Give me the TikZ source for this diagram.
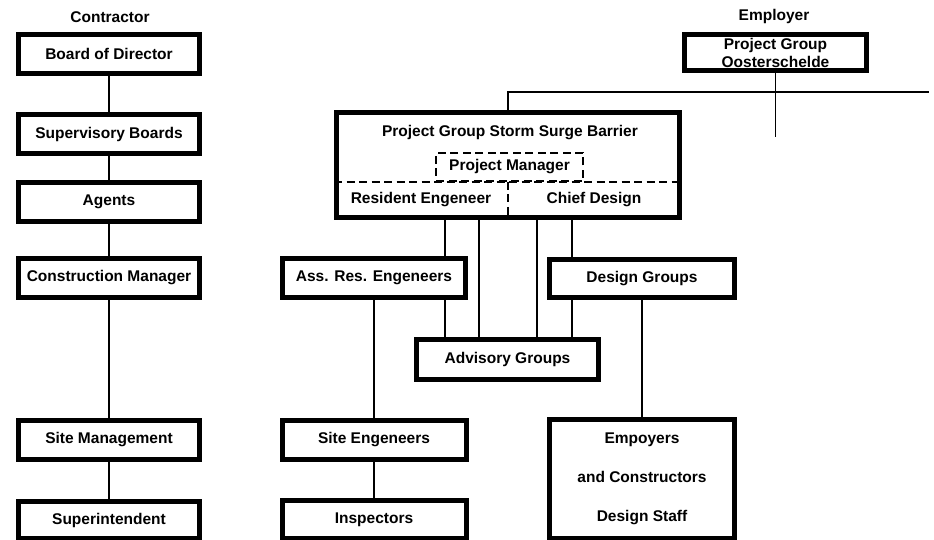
\documentclass[tikz,border=0pt]{standalone}
\usepackage{fontspec}
\setmainfont{Liberation Sans}
\usepackage{tikz}
\usetikzlibrary{
    calc,
    positioning
}
\newcommand{\orgfont}{\fontsize{15.5}{18}\selectfont\bfseries}
\tikzstyle{orgbox}=[
    rectangle,
    draw=black,
    fill=white,
    line width=5pt,
    minimum width=181pt,
    minimum height=39pt,
    inner sep=0pt,
    align=center,
    font=\orgfont
]
\tikzstyle{link}=[line width=1.5pt,draw=black]

\begin{document}
\begin{tikzpicture}[
    x=1pt,y=-1pt,
    heading/.style={font=\orgfont,inner sep=0pt},
    dashline/.style={line width=2pt,dash pattern=on 8pt off 4.5pt},
    pmbox/.style={rectangle,draw=black,dashline,minimum width=147pt,
    minimum height=28pt,inner sep=0pt,font=\orgfont}
]
\useasboundingbox (0,0) rectangle (934,540);
% contractor side
\node[heading] (contractor) at (110,17) {Contractor};
\node[orgbox] (board) at (109,54) {Board of Director};
\node[orgbox,below=36pt of board] (superv) {Supervisory Boards};
\node[orgbox,below=24pt of superv] (agents) {Agents};
\node[orgbox,below=32pt of agents] (constr) {Construction Manager};
\node[orgbox,below=118pt of constr] (sitemgmt) {Site Management};
\node[orgbox,below=37pt of sitemgmt,minimum height=37pt] (superint) {Superintendent};
\draw[link] (board.south) -- (superv.north);
\draw[link] (superv.south) -- (agents.north);
\draw[link] (agents.south) -- (constr.north);
\draw[link] (constr.south) -- (sitemgmt.north);
\draw[link] (sitemgmt.south) -- (superint.north);
% employer side
\node[heading] (employer) at (774,16) {Employer};
\node[orgbox,minimum width=182pt,minimum height=36pt] (ooster) at (775.5,52.5)
{Project Group\\Oosterschelde};
\coordinate (busend) at (929,92);
\coordinate (stub) at (775.5,137);
\node[orgbox,minimum width=343pt,minimum height=105pt] (storm) at (508,165) {};
\node[heading] (stormtitle) at (510,133) {Project Group Storm Surge Barrier};
\node[pmbox] (pm) at (509.5,167) {Project Manager};
\node[heading] (resident) at (421,200) {Resident Engeneer};
\node[heading] (chief) at (594,200) {Chief Design};
\draw[dashline] (storm.west |- pm.south) -- (storm.east |- pm.south);
\draw[dashline] (storm.south |- pm.south) -- (storm.south);
\draw[link] (storm.north) |- (busend);
\draw[link] (ooster.south) -- (stub);
% groups below
\node[orgbox,minimum width=183pt] (assres) at (374,278) {Ass. Res. Engeneers};
\node[orgbox,below=118pt of assres,minimum width=184pt] (siteeng) {Site Engeneers};
\node[orgbox,below=36pt of siteeng,minimum width=184pt,minimum height=38pt] (inspect) {Inspectors};
\node[orgbox,minimum width=182pt,minimum height=40pt] (advisory) at (507.5,359.5) {Advisory Groups};
\node[orgbox,minimum width=185pt,minimum height=38pt] (design) at (642,278.5) {Design Groups};
\node[orgbox,minimum width=185pt,minimum height=119pt,
font=\fontsize{15.5}{39}\selectfont\bfseries] (empoy) at (642,479)
{Empoyers\\and Constructors\\Design Staff};
\draw[link] (storm.south -| 445,0) -- (assres.north -| 445,0);
\draw[link] (assres.south -| 445,0) -- (advisory.north -| 445,0);
\draw[link] (storm.south -| 479,0) -- (advisory.north -| 479,0);
\draw[link] (storm.south -| 537,0) -- (advisory.north -| 537,0);
\draw[link] (storm.south -| 572,0) -- (design.north -| 572,0);
\draw[link] (design.south -| 572,0) -- (advisory.north -| 572,0);
\draw[link] (assres.south) -- (siteeng.north);
\draw[link] (siteeng.south) -- (inspect.north);
\draw[link] (design.south) -- (empoy.north);
\end{tikzpicture}
\end{document}
